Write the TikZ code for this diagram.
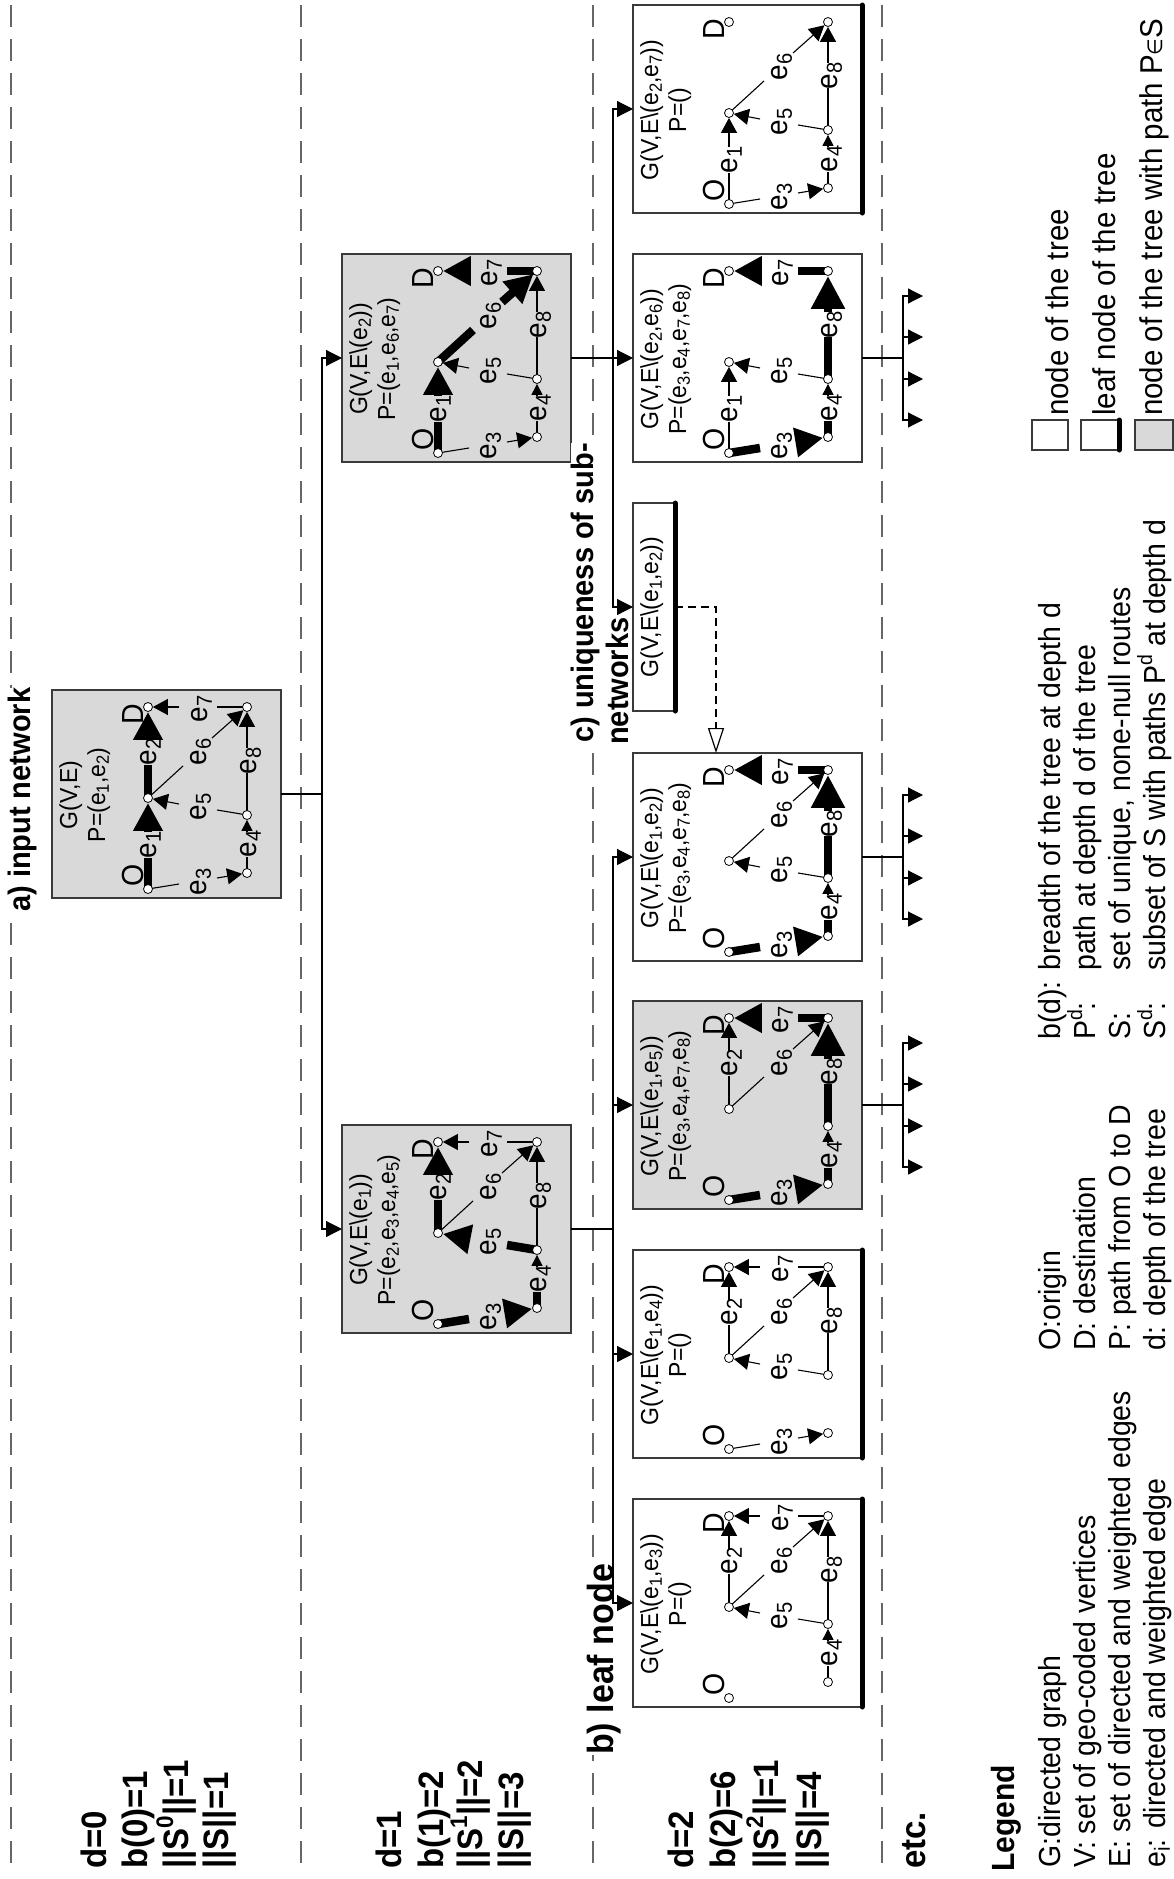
\documentclass[tikz,border=0pt]{standalone}
\usepackage{fontspec}
\setmainfont{Liberation Sans}
\newfontfamily\symf{DejaVu Sans}
\usetikzlibrary{arrows.meta}
\pgfdeclarelayer{back}\pgfdeclarelayer{edges}
\pgfsetlayers{back,edges,main}
\newcommand\ssb[1]{\raisebox{-.16em}{\scalebox{.72}{#1}}}
\newcommand\ssp[1]{\raisebox{.42em}{\scalebox{.68}{#1}}}
\newcommand\fs[1]{\fontsize{#1}{#1}\selectfont}
\definecolor{boxgray}{HTML}{D9D9D9}
\definecolor{bordergray}{HTML}{3A3A3A}
\definecolor{dashgray}{HTML}{666666}
\tikzset{
  gbox/.style={draw=bordergray,line width=1.4pt,fill=white,minimum width=229pt,minimum height=208pt,inner sep=0pt,outer sep=0pt,anchor=north west},
  graybox/.style={gbox,fill=boxgray},
  vert/.style={circle,draw=black,line width=.8pt,fill=white,minimum size=9pt,inner sep=0pt},
  uptext/.style={rotate=90,yscale=1.07,transform shape,inner sep=0pt},
  elabel/.style={uptext,anchor=base,font=\fs{28}},
  gletter/.style={uptext,anchor=base,font=\fs{28.5}},
  gtitle/.style={uptext,anchor=base,font=\fs{23}},
  segn/.style={line width=1.1pt,draw=black},
  segp/.style={line width=8.5pt,draw=black},
  tipn/.style={-{Triangle[length=15pt,width=16pt]}},
  tipp/.style={-{Triangle[length=28pt,width=28pt]}},
  tips/.style={-{Triangle[length=11pt,width=11pt]}},
  tipnl/.style={tipn},
  tippl/.style={-{Triangle[length=33pt,width=32pt]}},
  conn/.style={line width=1.2pt,draw=black},
  arrowconn/.style={conn,-{Triangle[length=16pt,width=16pt]}},
  leafbar/.style={line width=5pt,draw=black,line cap=round},
  dashline/.style={line width=1.5pt,draw=dashgray,dash pattern=on 22pt off 12pt},
  sidetext/.style={uptext,anchor=base west,font=\bfseries\fs{33}},
  legendhead/.style={uptext,anchor=base west,font=\bfseries\fs{30}},
  sectlabel/.style={uptext,anchor=base west,fill=white,font=\bfseries\fs{29}},
  legtext/.style={uptext,anchor=base west,font=\fs{28.5}},
}
\newcommand\Eseg[7]{%
  \begin{pgfonlayer}{edges}
    \draw[#5] (\curid-#1.center) -- (#2);
    \draw[#6,#7] (#3) -- (\curid-#4);
  \end{pgfonlayer}}
\newcommand\elab[2]{\node[elabel] (\curid-l#2) at (#1) {e\ssb{#2}};}
\newcommand\eA[1]{\Eseg{O}{96,168}{96,142}{B}{seg#1}{seg#1}{tip#1}\elab{104,155}{1}}
\newcommand\eB[1]{\Eseg{B}{96,75}{96,50}{D}{seg#1}{seg#1}{tip#1}\elab{104,62}{2}}
\newcommand\eC[1]{\Eseg{O}{127,194}{165,188}{C}{seg#1}{seg#1}{tip#1}\elab{154,192}{3}}
\newcommand\eD[1]{\Eseg{C}{195,167}{195,142}{E}{seg#1}{segn}{tips}\elab{204,154}{4}}
\newcommand\eE[1]{\Eseg{E}{165,120}{127,114}{B}{seg#1}{seg#1}{tip#1}\elab{154,117}{5}}
\newcommand\eF[1]{\Eseg{B}{131,76}{160,48}{F}{seg#1}{seg#1}{tip#1}\elab{154,62}{6}}
\newcommand\eG[1]{\Eseg{F}{165,17}{127,17}{D}{seg#1}{seg#1}{tip#1}\elab{155,19}{7}}
\newcommand\eH[1]{\Eseg{E}{195,83}{195,58}{F}{seg#1}{seg#1}{tip#1l}\elab{204,71}{8}}
% #1 id, #2 style, #3 title, #4 path
\newcommand\gframe[4]{%
  \def\curid{#1}%
  \begin{pgfonlayer}{back}
    \node[#2] (#1) at (0,0) {};
  \end{pgfonlayer}
  \node[vert] (#1-O) at (96,199) {};
  \node[vert] (#1-B) at (96,108) {};
  \node[vert] (#1-D) at (96,17) {};
  \node[vert] (#1-C) at (195,183) {};
  \node[vert] (#1-E) at (195,125) {};
  \node[vert] (#1-F) at (195,17) {};
  \node[gletter] (#1-lO) at (91,185) {O};
  \node[gletter] (#1-lD) at (91,24) {D};
  \node[gtitle] (#1-t1) at (25,105) {#3};
  \node[gtitle] (#1-t2) at (53,105) {#4};
}
\newcommand\forkout[1]{%
  \draw[conn] (#1.east) -- ++(41,0) coordinate (#1-f);
  \foreach \o in {-62,-21,21,62}
    \draw[arrowconn,-{Triangle[length=15pt,width=15pt]}] (#1-f) -- ++(0,\o) -- ++(20,0);
}
\begin{document}
\begin{tikzpicture}[x=1pt,y=-1pt]
\useasboundingbox (0,0) rectangle (1174,1879);
% depth separators
\begin{pgfonlayer}{back}
  \draw[dashline] (11,5) -- (11,1868);
  \draw[dashline] (301,5) -- (301,1868);
  \draw[dashline] (593,5) -- (593,1868);
  \draw[dashline] (882,5) -- (882,1868);
\end{pgfonlayer}
% boxes
\begin{scope}[shift={(52,690)}]
  \gframe{a}{graybox}{G(V,E)}{P=(e\ssb{1},e\ssb{2})}
  \eA{p}\eB{p}\eC{n}\eD{n}\eE{n}\eF{n}\eG{n}\eH{n}
\end{scope}
\begin{scope}[shift={(342,254)}]
  \gframe{be}{graybox}{G(V,E\textbackslash(e\ssb{2}))}{P=(e\ssb{1},e\ssb{6},e\ssb{7})}
  \eA{p}\eC{n}\eD{n}\eE{n}\eF{p}\eG{p}\eH{n}
\end{scope}
\begin{scope}[shift={(342,1125)}]
  \gframe{bd}{graybox}{G(V,E\textbackslash(e\ssb{1}))}{P=(e\ssb{2},e\ssb{3},e\ssb{4},e\ssb{5})}
  \eB{p}\eC{p}\eD{p}\eE{p}\eF{n}\eG{n}\eH{n}
\end{scope}
\begin{scope}[shift={(633,5)}]
  \gframe{c1}{gbox}{G(V,E\textbackslash(e\ssb{2},e\ssb{7}))}{P=()}
  \eA{n}\eC{n}\eD{n}\eE{n}\eF{n}\eH{n}
\end{scope}
\begin{scope}[shift={(633,254)}]
  \gframe{c2}{gbox}{G(V,E\textbackslash(e\ssb{2},e\ssb{6}))}{P=(e\ssb{3},e\ssb{4},e\ssb{7},e\ssb{8})}
  \eA{n}\eC{p}\eD{p}\eE{n}\eG{p}\eH{p}
\end{scope}
\begin{scope}[shift={(633,753)}]
  \gframe{c4}{gbox}{G(V,E\textbackslash(e\ssb{1},e\ssb{2}))}{P=(e\ssb{3},e\ssb{4},e\ssb{7},e\ssb{8})}
  \eC{p}\eD{p}\eE{n}\eF{n}\eG{p}\eH{p}
\end{scope}
\begin{scope}[shift={(633,1001)}]
  \gframe{c5}{graybox}{G(V,E\textbackslash(e\ssb{1},e\ssb{5}))}{P=(e\ssb{3},e\ssb{4},e\ssb{7},e\ssb{8})}
  \eB{n}\eC{p}\eD{p}\eF{n}\eG{p}\eH{p}
\end{scope}
\begin{scope}[shift={(633,1250)}]
  \gframe{c6}{gbox}{G(V,E\textbackslash(e\ssb{1},e\ssb{4}))}{P=()}
  \eB{n}\eC{n}\eE{n}\eF{n}\eG{n}\eH{n}
\end{scope}
\begin{scope}[shift={(633,1499)}]
  \gframe{c7}{gbox}{G(V,E\textbackslash(e\ssb{1},e\ssb{3}))}{P=()}
  \eB{n}\eD{n}\eE{n}\eF{n}\eG{n}\eH{n}
\end{scope}
% small duplicate leaf
\node[gbox,minimum width=42pt] (c3) at (633,503) {};
\node[gtitle] (c3-t) at (658,607) {G(V,E\textbackslash(e\ssb{1},e\ssb{2}))};
% leaf bars
\draw[leafbar] (c1.north east) -- (c1.south east);
\draw[leafbar] (c3.north east) -- (c3.south east);
\draw[leafbar] (c6.north east) -- (c6.south east);
\draw[leafbar] (c7.north east) -- (c7.south east);
% section labels
\node[sectlabel] (la) at (30,912) {a) input network};
\node[sectlabel,font=\bfseries\fs{34}] (lb) at (613,1755) {b) leaf node};
\node[sectlabel] (lc1) at (593,743) {c) uniqueness of sub-};
\node[sectlabel] (lc2) at (628,745) {networks};
% connectors
\coordinate (ta) at (322,0);
\coordinate (tb) at (613,0);
\draw[arrowconn] (a.east) -- (ta |- a.east) |- (be.west);
\draw[arrowconn] (a.east) -- (ta |- a.east) |- (bd.west);
\foreach \t in {c1,c2,c3} \draw[arrowconn] (be.east) -- (tb |- be.east) |- (\t.west);
\foreach \t in {c4,c5,c6,c7} \draw[arrowconn] (bd.east) -- (tb |- bd.east) |- (\t.west);
\forkout{c2}\forkout{c4}\forkout{c5}
\coordinate (dt) at (716,753);
\draw[conn,dash pattern=on 8pt off 5pt,-{Triangle[open,length=25pt,width=16pt,fill=white]}] (c3.east) -| (dt);
% depth column
\node[sidetext] (d0a) at (106,1869) {d=0};
\node[sidetext] (d0b) at (147,1869) {b(0)=1};
\node[sidetext] (d0c) at (188,1869) {||S\ssp{0}||=1};
\node[sidetext] (d0d) at (228,1869) {||S||=1};
\node[sidetext] (d1a) at (401,1869) {d=1};
\node[sidetext] (d1b) at (443,1869) {b(1)=2};
\node[sidetext] (d1c) at (482,1869) {||S\ssp{1}||=2};
\node[sidetext] (d1d) at (523,1869) {||S||=3};
\node[sidetext] (d2a) at (693,1869) {d=2};
\node[sidetext] (d2b) at (735,1869) {b(2)=6};
\node[sidetext] (d2c) at (778,1869) {||S\ssp{2}||=1};
\node[sidetext] (d2d) at (821,1869) {||S||=4};
\node[sidetext] (etc) at (925,1869) {etc.};
% legend
\node[legendhead] (lg) at (1014,1872) {Legend};
\node[legtext] (g1) at (1060,1868) {G:directed graph};
\node[legtext] (g2) at (1095,1868) {V: set of geo-coded vertices};
\node[legtext] (g3) at (1130,1868) {E: set of directed and weighted edges};
\node[legtext] (g4) at (1165,1868) {e\ssb{i}: directed and weighted edge};
\node[legtext] (m1) at (1060,1351) {O:origin};
\node[legtext] (m2) at (1095,1351) {D: destination};
\node[legtext] (m3) at (1130,1351) {P: path from O to D};
\node[legtext] (m4) at (1165,1351) {d: depth of the tree};
\node[legtext] (n1) at (1060,1040) {b(d): breadth of the tree at depth d};
\node[legtext] (n2) at (1095,1040) {P\ssp{d}:};
\node[legtext] (n3) at (1130,1040) {S:};
\node[legtext] (n4) at (1165,1040) {S\ssp{d}:};
\node[legtext] (t2) at (1095,971) {path at depth d of the tree};
\node[legtext] (t3) at (1130,971) {set of unique, none-null routes};
\node[legtext] (t4) at (1165,971) {subset of S with paths P\ssp{d} at depth d};
\node[gbox,minimum width=36pt,minimum height=30pt] (s1) at (1032,420) {};
\node[gbox,minimum width=38pt,minimum height=30pt] (s2) at (1081,420) {};
\draw[leafbar] (s2.north east) -- (s2.south east);
\node[graybox,minimum width=38pt,minimum height=30pt] (s3) at (1135,420) {};
\node[legtext,font=\fs{29.5}] (k1) at (1068,416) {node of the tree};
\node[legtext,font=\fs{29.5}] (k2) at (1115,416) {leaf node of the tree};
\node[legtext,font=\fs{29.5}] (k3) at (1162,416) {node of the tree with path P{\symf\scalebox{.65}{∈}}S};
\end{tikzpicture}
\end{document}
